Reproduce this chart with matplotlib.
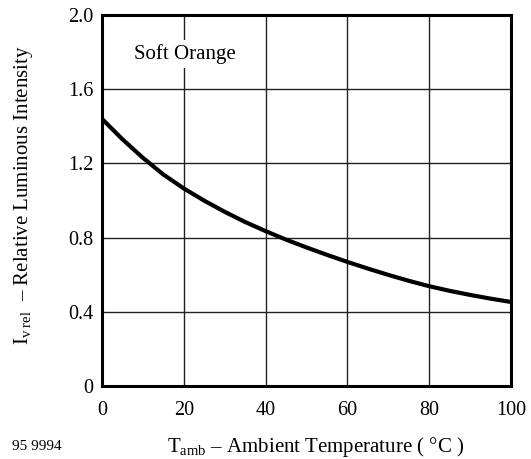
import matplotlib
matplotlib.use('Agg')
import matplotlib.pyplot as plt
import numpy as np

plt.rcParams['font.family'] = 'Liberation Serif'
plt.rcParams['mathtext.fontset'] = 'custom'
plt.rcParams['mathtext.rm'] = 'Liberation Serif'
plt.rcParams['mathtext.it'] = 'Liberation Serif:italic'

# relative luminous intensity vs ambient temperature
t_amb = [0, 5, 10, 15, 20, 25, 30, 35, 40, 45, 50, 55, 60, 65, 70, 75, 80, 85, 90, 95, 100]
iv_rel = [1.44, 1.33, 1.23, 1.14, 1.065, 0.999, 0.939, 0.884, 0.835, 0.789, 0.747, 0.707,
          0.669, 0.633, 0.599, 0.567, 0.538, 0.513, 0.491, 0.471, 0.453]

x_ticks = [0, 20, 40, 60, 80, 100]
y_ticks = [0, 0.4, 0.8, 1.2, 1.6, 2.0]
y_labels = ['0', '0.4', '0.8', '1.2', '1.6', '2.0']

fig = plt.figure(figsize=(5.31, 4.59), dpi=100)
ax = fig.add_axes([102/531, 1 - 386/459, 409/531, 371/459])

ax.plot(t_amb, iv_rel, color='black', lw=3, solid_capstyle='butt',
        solid_joinstyle='round', zorder=3)

ax.set_xlim(0, 100)
ax.set_ylim(0, 2.0)
ax.set_xticks(x_ticks)
ax.set_yticks(y_ticks)
ax.set_yticklabels(y_labels)
ax.tick_params(length=0, labelsize=14.5)
ax.tick_params(axis='x', pad=11)
ax.tick_params(axis='y', pad=6)
ax.grid(True, color='#222222', lw=1)
for s in ax.spines.values():
    s.set_linewidth(2.2)

ax.text(7.8, 1.79, 'Soft Orange', fontsize=15, ha='left', va='center',
        bbox=dict(facecolor='white', edgecolor='none', pad=3))

fig.text(316/531, 1 - 447/459, r'$\mathrm{T_{amb}}$ – Ambient Temperature ( °C )',
         fontsize=15, ha='center', va='center')
fig.text(24/531, 1 - 195/459, r'$\mathrm{I_{v\ rel}}$  – Relative Luminous Intensity',
         fontsize=15, ha='center', va='center', rotation=90)
fig.text(12/531, 1 - 446/459, '95 9994', fontsize=11, ha='left', va='center')

fig.savefig('out.png', dpi=100)
